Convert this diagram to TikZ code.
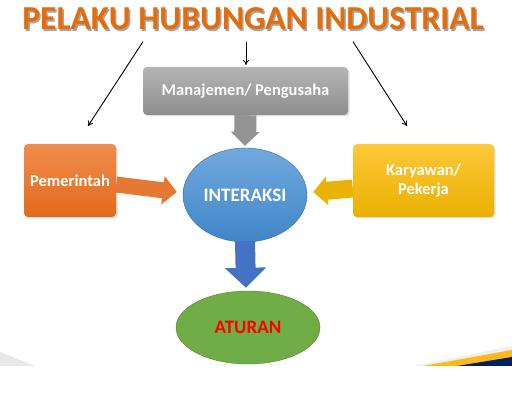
\documentclass[tikz,border=0pt]{standalone}
\usepackage{fontspec}
\setmainfont{Carlito}
\usepackage{tikz}
\usetikzlibrary{arrows.meta,positioning,shadows,shapes.geometric}

\definecolor{ttlorange}{HTML}{E46C0A}
\definecolor{boxgreytop}{HTML}{B4B4B4}
\definecolor{boxgreybot}{HTML}{8E8E8E}
\definecolor{pemtop}{HTML}{F08C4E}
\definecolor{pembot}{HTML}{E26A1C}
\definecolor{kartop}{HTML}{FFC83A}
\definecolor{karbot}{HTML}{E9B000}
\definecolor{intertop}{HTML}{72A9DE}
\definecolor{interbot}{HTML}{3F86C8}
\definecolor{atgreen}{HTML}{70AD47}
\definecolor{atedge}{HTML}{548235}
\definecolor{arrblue}{HTML}{4472C4}
\definecolor{navy}{HTML}{002060}
\definecolor{swgold}{HTML}{FFB81C}

\begin{document}
\begin{tikzpicture}[x=1pt, y=-1pt,
  box/.style={rounded corners=4pt, align=center, text=white,
              font=\fontsize{16.5}{19}\selectfont\bfseries, inner sep=3pt,
              drop shadow={opacity=0.25, shadow xshift=1.5pt, shadow yshift=-1.5pt}},
  blob/.style={ellipse, align=center, inner sep=0pt,
              font=\fontsize{19}{21}\selectfont\bfseries},
  blockarr/.style={line width=#1, -{Triangle[length=14pt, width=28pt]}},
  thinarr/.style={-{To[length=5pt, width=6pt]}, line width=0.9pt}
]
% background
\useasboundingbox (0,0) rectangle (512,403);
\fill[black!9] (0,352) -- (35,366) -- (0,366) -- cycle;
\fill[black!6] (413,366) -- (512,346) -- (512,366) -- cycle;
\fill[swgold] (423,366) -- (512,350) -- (512,366) -- cycle;
\fill[navy] (457,366) -- (512,357) -- (512,366) -- cycle;

% title
\node[text=black!35, font=\fontsize{33.5}{36}\selectfont\bfseries] at (254.5,20.5) {PELAKU HUBUNGAN INDUSTRIAL};
\node[text=ttlorange, font=\fontsize{33.5}{36}\selectfont\bfseries] (title) at (253,19) {PELAKU HUBUNGAN INDUSTRIAL};

% actors
\node[box, top color=boxgreytop, bottom color=boxgreybot,
      minimum width=205pt, minimum height=48pt] (mgmt) at (245.5,91) {Manajemen/ Pengusaha};
\node[box, top color=pemtop, bottom color=pembot,
      minimum width=92pt, minimum height=73pt] (pem) at (70,180.5) {Pemerintah};
\node[box, top color=kartop, bottom color=karbot,
      minimum width=141pt, minimum height=73pt] (kar) at (423.5,180.5) {Karyawan/\\Pekerja};
\node[blob, draw=interbot!80!black, top color=intertop, bottom color=interbot, text=white,
      minimum width=124pt, minimum height=94pt] (inter) at (245,195) {INTERAKSI};
\node[blob, draw=atedge, fill=atgreen, text=red,
      minimum width=144pt, minimum height=73pt] (atur) at (248,327.5) {ATURAN};

% free ends of the thin arrows
\coordinate (pemTop) at (88,126);
\coordinate (mgmtTop) at (246,65);
\coordinate (karTop) at (407,126);

\draw[thinarr] ([xshift=-110pt,yshift=-8pt]title.south) -- (pemTop);
\draw[thinarr] ([xshift=-7pt,yshift=-8pt]title.south) -- (mgmtTop);
\draw[thinarr] ([xshift=100pt,yshift=-8pt]title.south) -- (karTop);

% block arrows
\draw[blockarr=22pt, black!42] (mgmt.south) -- ([yshift=2pt]inter.north);
\draw[blockarr=16pt, pembot!90!white] ([yshift=-4pt]pem.east) -- ([xshift=-6pt,yshift=3pt]inter.west);
\draw[blockarr=18pt, karbot!90!kartop] ([yshift=-8pt]kar.west) -- ([xshift=6pt,yshift=3pt]inter.east);
\draw[blockarr=20pt, arrblue, -{Triangle[length=20pt, width=40pt]}] ([yshift=1pt]inter.south) -- ([xshift=-2pt,yshift=3pt]atur.north);
\end{tikzpicture}
\end{document}
